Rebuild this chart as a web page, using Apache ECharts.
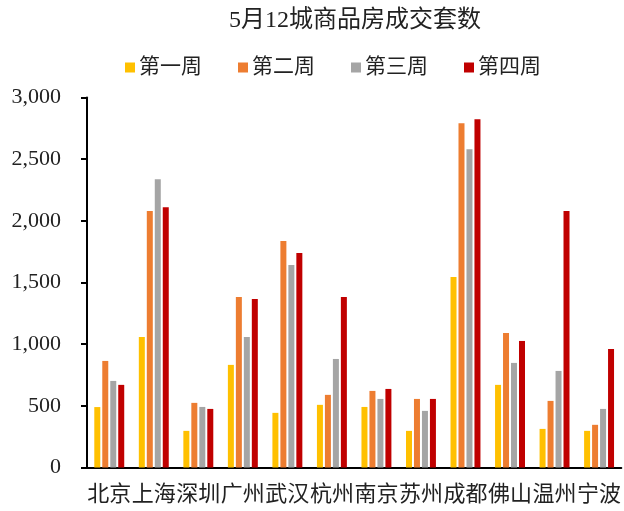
<!DOCTYPE html>
<html><head><meta charset="utf-8">
<script src="https://cdn.jsdelivr.net/npm/echarts@6/dist/echarts.min.js"></script>
<style>html,body{margin:0;padding:0;background:#fff}#c{width:624px;height:511px}</style>
</head><body><div id="c"></div>
<script>
const categories = ['北京','上海','深圳','广州','武汉','杭州','南京','苏州','成都','佛山','温州','宁波'];
const week1 = [490,1058,297,832,443,508,491,297,1544,670,313,297];
const week2 = [864,2079,524,1382,1836,589,621,556,2792,1091,540,346];
const week3 = [702,2338,491,1058,1642,880,556,459,2581,848,783,475];
const week4 = [670,2111,475,1366,1739,1382,637,556,2824,1026,2079,961];
const seriesNames = ['第一周','第二周','第三周','第四周'];
const colors = ['#FFC000','#ED7D31','#A5A5A5','#C00000'];
const yTicks = {min:0, max:3000, interval:500};

const FONT = '"Liberation Serif", "Noto Sans CJK SC", serif';
const chart = echarts.init(document.getElementById('c'), null, {renderer:'canvas'});
const data = [week1, week2, week3, week4];
chart.setOption({
  animation:false,
  color: colors,
  title:{text:'5月12城商品房成交套数', left:350, top:4, textAlign:'center',
    textStyle:{fontFamily:FONT, fontSize:24, fontWeight:'normal', color:'#222'}},
  legend:{top:52, left:120, itemWidth:10, itemHeight:10, itemGap:36, icon:'rect',
    textStyle:{fontFamily:FONT, fontSize:21, color:'#222', padding:[0,0,0,-1]},
    data: seriesNames},
  grid:{left:87, right:1, top:97.5, bottom:43.5, containLabel:false},
  xAxis:{type:'category', data:categories,
    axisLine:{lineStyle:{color:'#000', width:2}},
    axisTick:{show:false},
    axisLabel:{fontFamily:FONT, fontSize:22, color:'#222', margin:17, interval:0}},
  yAxis:{type:'value', min:yTicks.min, max:yTicks.max, interval:yTicks.interval,
    axisLine:{show:true, lineStyle:{color:'#000', width:2}},
    axisTick:{show:true, inside:false, length:6, lineStyle:{color:'#000', width:2}},
    splitLine:{show:false},
    axisLabel:{fontFamily:FONT, fontSize:22, color:'#222', margin:26,
      formatter: v => v.toLocaleString('en-US')}},
  series: data.map((d,i)=>({name:seriesNames[i], type:'bar', data:d, barWidth:6, barGap:'33%'}))
});
</script></body></html>
